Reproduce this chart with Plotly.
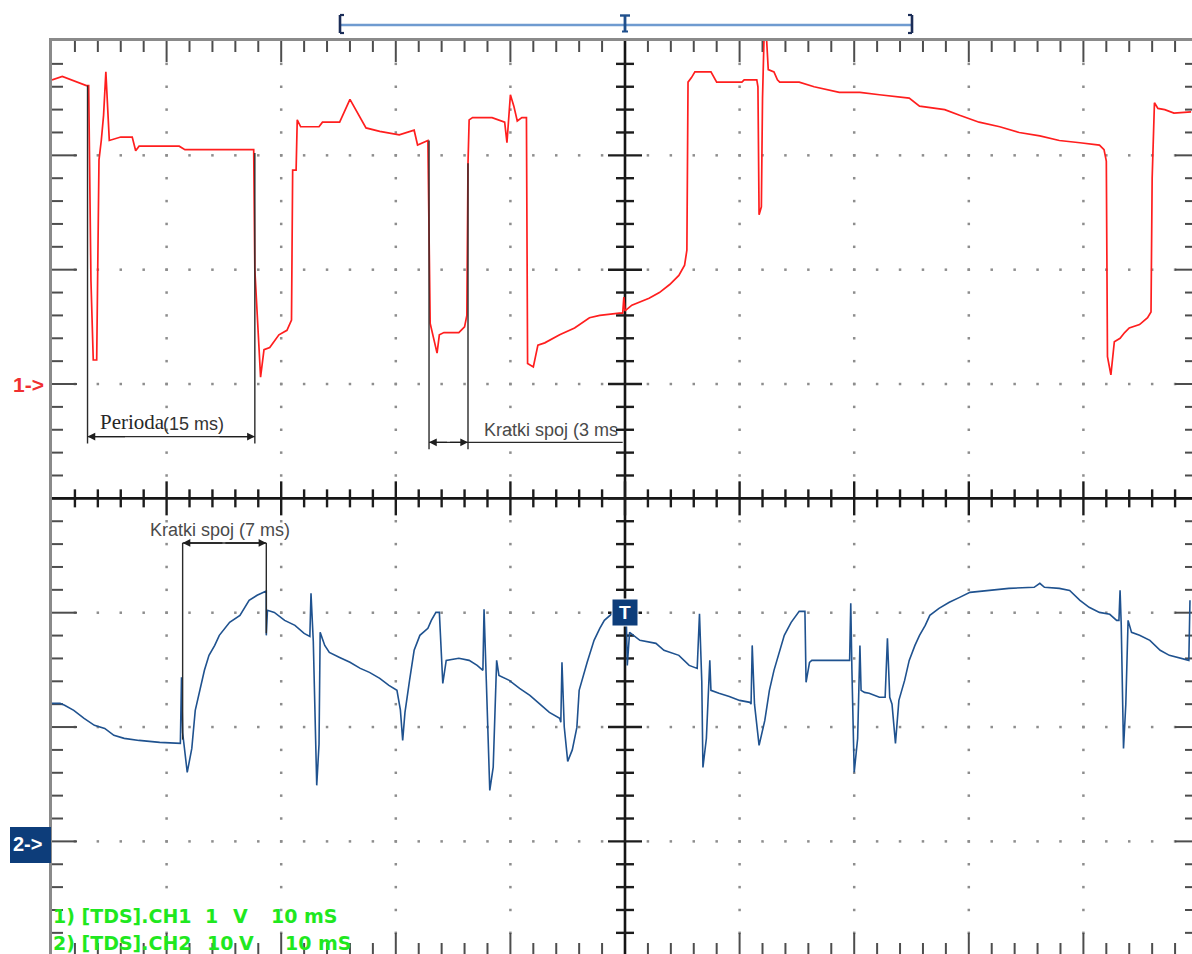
import numpy as np
import plotly.graph_objects as go

# CH1 (red): time in ms, voltage in V
ch1_t = [-50.0, -49.1, -47.0, -46.8, -46.6, -46.4, -46.1, -46.0, -45.9, -45.7, -45.5, -45.3,
         -45.0, -44.0, -43.0, -42.7, -42.4, -38.9, -38.4, -32.4, -32.3, -31.8, -31.5, -31.0,
         -30.2, -29.5, -29.1, -29.0, -28.7, -28.6, -28.3, -26.7, -26.4, -24.9, -24.0, -22.6,
         -21.4, -19.7, -18.4, -18.1, -17.2, -17.0, -16.4, -16.2, -15.8, -14.5, -14.0, -13.8,
         -13.7, -13.6, -13.3, -11.6, -10.5, -10.3, -10.0, -9.7, -9.4, -9.0, -8.6, -8.5,
         -8.0, -7.6, -7.0, -5.7, -4.4, -3.1, -2.2, -0.5, -0.2, -0.1, 0.0, 0.6,
         2.1, 3.0, 3.9, 4.7, 5.2, 5.4, 5.5, 5.8, 6.1, 7.5, 7.8, 8.0,
         10.2, 10.4, 11.5, 11.6, 11.7, 11.9, 12.0, 12.2, 12.5, 13.0, 13.3, 13.5,
         15.2, 16.5, 18.7, 20.5, 22.2, 24.8, 25.7, 27.9, 29.2, 30.9, 32.7, 34.4,
         36.2, 37.9, 39.7, 41.4, 41.8, 42.0, 42.1, 42.4, 42.7, 43.2, 43.6, 44.0,
         44.9, 45.6, 45.9, 46.0, 46.2, 46.5, 47.1, 47.9, 49.4]
ch1_v = [2.66, 2.69, 2.61, 2.61, 0.90, 0.21, 0.21, 0.88, 1.96, 2.13, 2.35, 2.73,
         2.13, 2.16, 2.16, 2.04, 2.08, 2.08, 2.05, 2.05, 1.00, 0.06, 0.30, 0.32,
         0.43, 0.47, 0.56, 1.87, 1.87, 2.31, 2.25, 2.25, 2.29, 2.29, 2.49, 2.24,
         2.21, 2.18, 2.22, 2.09, 2.13, 0.53, 0.27, 0.43, 0.45, 0.45, 0.50, 0.60,
         1.93, 2.31, 2.33, 2.33, 2.29, 2.11, 2.53, 2.43, 2.30, 2.33, 2.33, 0.18,
         0.15, 0.34, 0.36, 0.43, 0.49, 0.58, 0.60, 0.62, 0.62, 0.76, 0.64, 0.69,
         0.75, 0.80, 0.87, 0.95, 1.04, 1.17, 2.64, 2.68, 2.73, 2.73, 2.68, 2.64,
         2.64, 2.66, 2.66, 2.60, 1.48, 1.55, 2.50, 3.30, 2.75, 2.73, 2.66, 2.64,
         2.64, 2.60, 2.55, 2.55, 2.53, 2.50, 2.43, 2.40, 2.35, 2.29, 2.25, 2.20,
         2.17, 2.13, 2.11, 2.09, 2.05, 1.95, 0.24, 0.08, 0.37, 0.40, 0.45, 0.49,
         0.52, 0.58, 0.63, 1.80, 2.46, 2.41, 2.40, 2.37, 2.38]

# CH2 (blue): time in ms, voltage in V
ch2_t = [-50.0, -49.3, -48.9, -48.1, -47.2, -46.3, -45.4, -44.6, -43.7, -42.4, -40.6, -39.1,
         -38.8, -38.7, -38.6, -38.2, -37.8, -37.5, -37.1, -36.7, -36.3, -35.8, -35.4, -34.5,
         -33.6, -32.8, -32.1, -31.5, -31.3, -31.3, -31.2, -30.6, -29.7, -28.8, -28.0, -27.5,
         -27.4, -27.2, -26.9, -26.7, -26.6, -26.2, -25.8, -24.9, -24.0, -23.1, -22.3, -21.4,
         -20.6, -19.9, -19.6, -19.4, -19.2, -18.8, -18.4, -17.9, -17.2, -16.9, -16.5, -16.2,
         -15.9, -15.6, -14.5, -13.6, -12.9, -12.4, -12.3, -12.1, -11.8, -11.5, -11.2, -11.0,
         -10.1, -9.2, -8.3, -7.5, -6.6, -5.7, -5.6, -5.5, -5.3, -5.0, -4.6, -4.2,
         -4.0, -3.3, -2.7, -2.2, -1.8, -1.2, 0.0, 0.1, 0.2, 0.4, 1.3, 2.7,
         3.4, 4.7, 5.6, 6.3, 6.5, 6.7, 6.8, 7.1, 7.4, 7.5, 8.2, 9.1,
         10.0, 10.9, 11.0, 11.1, 11.3, 11.7, 12.2, 12.6, 13.0, 13.5, 13.9, 14.5,
         15.2, 15.7, 15.8, 16.1, 16.3, 19.6, 19.7, 19.8, 20.0, 20.3, 20.5, 20.6,
         20.9, 21.3, 22.2, 22.7, 22.9, 23.1, 23.3, 23.6, 23.9, 24.4, 24.8, 25.3,
         25.7, 26.2, 26.6, 27.4, 28.3, 29.2, 30.1, 31.8, 33.5, 35.7, 36.2, 36.6,
         37.9, 38.8, 39.7, 40.5, 41.4, 42.3, 42.9, 43.1, 43.2, 43.3, 43.5, 43.7,
         43.9, 44.2, 44.9, 45.8, 46.7, 47.5, 48.4, 49.2, 49.3]
ch2_v = [12.07, 12.07, 11.90, 11.46, 10.76, 10.15, 9.88, 9.27, 9.01, 8.83, 8.66, 8.57,
         8.57, 14.35, 9.50, 6.04, 8.13, 11.46, 13.21, 14.96, 16.27, 17.14, 18.02, 19.16,
         19.77, 21.08, 21.52, 21.78, 21.90, 18.02, 20.21, 20.03, 19.33, 18.89, 18.19, 17.93,
         21.69, 17.50, 4.90, 8.50, 18.28, 17.14, 16.53, 16.09, 15.66, 15.13, 14.78, 14.26,
         13.65, 13.21, 11.50, 8.83, 11.28, 14.08, 16.71, 18.02, 18.63, 19.33, 20.03, 20.03,
         13.82, 15.83, 16.01, 15.83, 15.39, 14.96, 20.29, 14.00, 4.46, 6.50, 15.83, 14.52,
         14.08, 13.38, 12.77, 12.07, 11.28, 10.76, 10.41, 15.66, 10.00, 7.00, 8.00, 9.97,
         13.21, 15.66, 17.58, 18.63, 19.33, 19.86, 20.12, 20.12, 15.39, 18.28, 17.58, 17.32,
         16.71, 16.27, 15.39, 15.13, 19.90, 14.00, 6.47, 9.00, 15.83, 13.21, 12.95, 12.68,
         12.33, 12.16, 12.00, 17.14, 12.00, 8.40, 10.58, 13.21, 14.96, 16.71, 18.02, 19.16,
         20.12, 20.12, 13.91, 15.66, 15.83, 15.83, 20.82, 15.00, 6.04, 9.00, 17.14, 13.21,
         13.03, 12.95, 12.60, 12.60, 17.76, 12.60, 12.00, 8.57, 12.33, 14.08, 15.83, 17.14,
         18.02, 18.89, 19.77, 20.38, 20.91, 21.34, 21.78, 21.95, 22.13, 22.22, 22.57, 22.22,
         22.13, 21.95, 21.08, 20.47, 20.03, 19.86, 19.33, 19.33, 21.95, 19.00, 8.13, 12.00,
         19.33, 18.28, 18.02, 17.58, 16.71, 16.27, 16.01, 15.83, 21.08]

# scope settings
TIME_DIV = 10.0     # ms / div
CH1_VDIV = 1.0      # V / div
CH2_VDIV = 10.0     # V / div
CH1_POS = 1.0       # 0 V marker, divisions above centre
CH2_POS = -3.0
status_lines = [["1) [TDS].CH1", "1", "V", "10 mS"],
                ["2) [TDS].CH2", "10", "V", "10 mS"]]

# ---------------- geometry ----------------
W, H = 1192, 954
ML, MT = 52, 41
PX_DIV = 114.6      # px per division (horizontal)
PY_DIV = 114.34     # px per division (vertical)
x_left = -5 * TIME_DIV
x_right = x_left + (W - ML) / PX_DIV * TIME_DIV
div_bot = 4 - (H - MT) / PY_DIV
y1_rng = [(div_bot - CH1_POS) * CH1_VDIV, (4 - CH1_POS) * CH1_VDIV]
y2_rng = [(div_bot - CH2_POS) * CH2_VDIV, (4 - CH2_POS) * CH2_VDIV]

dxp = TIME_DIV / PX_DIV          # ms per px
dyp = CH1_VDIV / PY_DIV          # V(ch1) per px

def vdiv(d):                     # division -> ch1 volts
    return (d - CH1_POS) * CH1_VDIV

def tdiv(d):
    return d * TIME_DIV

def px(x):
    return (x - ML) / (W - ML)

def py(y):
    return (H - y) / (H - MT)

fig = go.Figure()

# grid dots
gx, gy = [], []
for d in [3, 2, 1, -1, -2, -3]:
    for k in range(1, 50):
        dd = -5 + 0.2 * k
        if abs(dd) < 1e-9:
            continue
        gx.append(tdiv(dd)); gy.append(vdiv(d))
for d in [-4, -3, -2, -1, 1, 2, 3, 4]:
    for k in range(1, 40):
        yy = 4 - 0.2 * k
        if abs(yy) < 1e-9:
            continue
        gx.append(tdiv(d)); gy.append(vdiv(yy))
fig.add_trace(go.Scatter(x=gx, y=gy, mode="markers",
                         marker=dict(symbol="square", size=2.5, color="#8d8d8d", line=dict(width=0)),
                         hoverinfo="skip"))

# ticks on borders and centre axes
bx, by = [], []
cx, cy = [], []
top_v = vdiv(4)
bot_v = vdiv(4 - (955 - MT) / PY_DIV)
right_t = tdiv((1198 - ML) / PX_DIV - 5)
for k in range(1, 50):
    t = tdiv(-5 + 0.2 * k)
    major = (k % 5 == 0)
    L = 21 if major else 11
    bx += [t, t, None]; by += [top_v, top_v - L * dyp, None]
    L = 22 if major else 12
    bx += [t, t, None]; by += [bot_v, bot_v + L * dyp, None]
    h = 17 if major else 9
    cx += [t, t, None]; cy += [vdiv(0) - h * dyp, vdiv(0) + h * dyp, None]
for k in range(1, 40):
    v = vdiv(4 - 0.2 * k)
    major = (k % 5 == 0)
    L = 25 if major else 11
    bx += [x_left, x_left + L * dxp, None]; by += [v, v, None]
    L = 23 if major else 13
    bx += [right_t, right_t - L * dxp, None]; by += [v, v, None]
    h = 17 if major else 9
    cx += [-h * dxp, h * dxp, None]; cy += [v, v, None]
fig.add_trace(go.Scatter(x=bx, y=by, mode="lines", line=dict(color="#4d4d4d", width=2),
                         hoverinfo="skip"))
# centre cross
fig.add_trace(go.Scatter(x=[x_left, x_right, None, 0, 0], y=[vdiv(0), vdiv(0), None, y1_rng[0], y1_rng[1]],
                         mode="lines", line=dict(color="#151515", width=2.6), hoverinfo="skip"))
fig.add_trace(go.Scatter(x=cx, y=cy, mode="lines", line=dict(color="#1c1c1c", width=2.4),
                         hoverinfo="skip"))

# signals
fig.add_trace(go.Scatter(x=ch1_t, y=ch1_v, mode="lines", line=dict(color="#ff1e1e", width=1.7),
                         yaxis="y", hoverinfo="skip"))
fig.add_trace(go.Scatter(x=ch2_t, y=ch2_v, mode="lines", line=dict(color="#1f528f", width=1.6),
                         yaxis="y2", hoverinfo="skip"))

shapes = []
def dline(x0, y0, x1, y1, color="#2a2a2a", width=1.4):
    shapes.append(dict(type="line", xref="x", yref="y", x0=x0, y0=y0, x1=x1, y1=y1,
                       line=dict(color=color, width=width)))

def pline(x0, y0, x1, y1, color, width):
    shapes.append(dict(type="line", xref="paper", yref="paper", x0=px(x0), y0=py(y0),
                       x1=px(x1), y1=py(y1), line=dict(color=color, width=width)))

# measurement lines (ms / CH1 volts)
dline(-46.9, 2.61, -46.9, -0.52)
dline(-32.3, 2.02, -32.3, -0.52)
dline(-46.9, -0.46, -32.3, -0.46)
dline(-17.1, 2.13, -17.1, -0.57)
dline(-13.7, 1.93, -13.7, -0.57)
dline(-17.1, -0.51, -0.2, -0.51)
dline(-38.6, -1.39, -38.6, -3.11)
dline(-31.3, -1.39, -31.3, -2.18)
dline(-38.6, -1.39, -31.3, -1.39)

# top position bar
pline(340, 25, 912, 25, "#6f9bd0", 2.6)
for (x0, sgn) in [(340, 1), (912, -1)]:
    pline(x0, 15, x0, 33, "#1b2d58", 2.6)
    pline(x0, 15, x0 + 4 * sgn, 15, "#1b2d58", 2.2)
    pline(x0, 33, x0 + 4 * sgn, 33, "#1b2d58", 2.2)
pline(625, 15, 625, 32, "#1f4f8c", 2.8)
pline(620, 15.5, 630, 15.5, "#1f4f8c", 2.4)
pline(622, 31.5, 628, 31.5, "#1f4f8c", 2.0)

# channel / trigger boxes
shapes.append(dict(type="rect", xref="paper", yref="paper", x0=px(10), x1=px(51), y0=py(863), y1=py(827),
                   fillcolor="#0d3d7a", line=dict(width=0)))
shapes.append(dict(type="rect", xref="paper", yref="paper", x0=px(612), x1=px(638), y0=py(626), y1=py(599),
                   fillcolor="#0d3d7a", line=dict(color="#ffffff", width=1)))

ann = []
def arrow(tip, tail, y):
    ann.append(dict(x=tip, y=y, ax=tail, ay=y, xref="x", yref="y", axref="x", ayref="y",
                    showarrow=True, arrowhead=2, arrowsize=1.1, arrowwidth=1.4,
                    arrowcolor="#1e1e1e", text=""))
arrow(-46.9, -43.5, -0.46)
arrow(-32.3, -35.5, -0.46)
arrow(-17.1, -15.4, -0.51)
arrow(-13.7, -15.4, -0.51)
arrow(-38.6, -35.0, -1.39)
arrow(-31.3, -35.0, -1.39)

ann.append(dict(x=-46.0, y=-0.33, xref="x", yref="y", xanchor="left", yanchor="middle",
                text="Perioda", showarrow=False,
                font=dict(family="Liberation Serif", size=21, color="#262626")))
ann.append(dict(x=-40.5, y=-0.35, xref="x", yref="y", xanchor="left", yanchor="middle",
                text="(15 ms)", showarrow=False,
                font=dict(family="Liberation Sans", size=18, color="#333333")))
ann.append(dict(x=-12.5, y=-0.40, xref="x", yref="y", xanchor="left", yanchor="middle",
                text="Kratki spoj (3 ms", showarrow=False,
                font=dict(family="Liberation Sans", size=18, color="#4a4a4a")))
ann.append(dict(x=-41.6, y=-1.28, xref="x", yref="y", xanchor="left", yanchor="middle",
                text="Kratki spoj (7 ms)", showarrow=False,
                font=dict(family="Liberation Sans", size=18, color="#4a4a4a")))

# channel markers
ann.append(dict(x=px(11), y=py(384), xref="paper", yref="paper", xanchor="left", yanchor="middle",
                text="1->", showarrow=False,
                font=dict(family="Liberation Sans", size=21, color="#f03030", weight="bold")))
ann.append(dict(x=px(11), y=py(844), xref="paper", yref="paper", xanchor="left", yanchor="middle",
                text="2->", showarrow=False,
                font=dict(family="Liberation Sans", size=20, color="#ffffff", weight="bold")))
ann.append(dict(x=px(625), y=py(612.5), xref="paper", yref="paper", xanchor="center", yanchor="middle",
                text="T", showarrow=False,
                font=dict(family="Liberation Sans", size=19, color="#ffffff", weight="bold")))

# status text
status_x = [[51, 203, 231, 269], [51, 205, 237, 283]]
status_y = [916, 943]
for line, xs, yy in zip(status_lines, status_x, status_y):
    for txt, xx in zip(line, xs):
        ann.append(dict(x=px(xx), y=py(yy), xref="paper", yref="paper", xanchor="left",
                        yanchor="middle", text=txt, showarrow=False,
                        font=dict(family="DejaVu Sans", size=19, color="#1fe81f", weight="bold")))

fig.update_layout(
    width=W, height=H,
    margin=dict(l=ML, r=0, t=MT, b=0, pad=0),
    paper_bgcolor="white", plot_bgcolor="white",
    showlegend=False, hovermode=False,
    xaxis=dict(range=[x_left, x_right], side="top", showgrid=False, zeroline=False,
               showticklabels=False, ticks="", showline=True, linecolor="#8a8a8a", linewidth=3),
    yaxis=dict(range=y1_rng, showgrid=False, zeroline=False, showticklabels=False, ticks="",
               showline=True, linecolor="#8a8a8a", linewidth=3),
    yaxis2=dict(range=y2_rng, overlaying="y", visible=False),
    shapes=shapes, annotations=ann,
)

fig.write_html("out.html", config={"displayModeBar": False},
               post_script="document.body.style.margin='0';")
